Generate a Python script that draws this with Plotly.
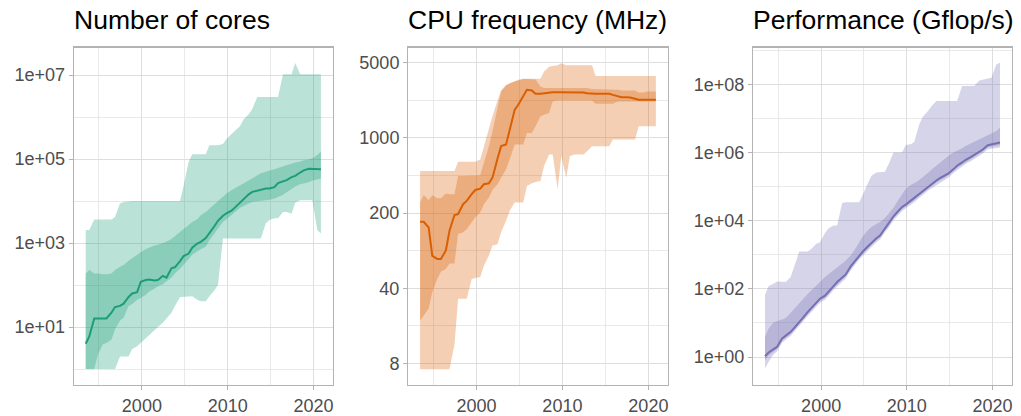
import plotly.graph_objects as go

# TOP500 lists: June and November of each year, 1993-2020 (decimal years)
years = [y + m for y in range(1993, 2021) for m in (0.45, 0.87)]

# ---------------- Number of cores ----------------
cores_median = [4, 6, 16, 16, 16, 16, 22, 30, 32, 36, 52, 63, 68, 120, 132, 135, 129, 132,
                166, 151, 251, 269, 372, 490, 562, 776, 977, 1072, 1318, 1698, 2512, 3388,
                4467, 5129, 5888, 7079, 9333, 11220, 14454, 16596, 17783, 18621, 19953, 19953,
                21380, 26915, 29512, 31623, 37154, 39811, 47863, 53703, 58884, 58884, 58884, 57544]
cores_inner_lo = [1, 1, 1, 2.2, 3.9, 4.2, 5.0, 8.9, 14.1, 16.6, 31.6, 35.5, 44.7, 49.0, 58.9, 70.8,
                  81.3, 93.3, 105, 123, 151, 191, 245, 302, 417, 525, 631, 724, 813, 1175, 1698,
                  2291, 3236, 3715, 4571, 5495, 6918, 7586, 8710, 9550, 10000, 10233, 10471, 10715,
                  11482, 12589, 14125, 16596, 19498, 22387, 25119, 26915, 28184, 30903, 33113, 33884]
cores_inner_hi = [190, 229, 190, 190, 182, 182, 190, 229, 275, 302, 380, 436, 550, 603, 724, 794,
                  871, 912, 1000, 1072, 1259, 1479, 1820, 2138, 2630, 3162, 3715, 4571, 5495, 6607,
                  8318, 10233, 13183, 15136, 18197, 20417, 23988, 26915, 30903, 35481, 41687, 45709,
                  50119, 52481, 57544, 61660, 67608, 72444, 77625, 83176, 87096, 93325, 97724,
                  104713, 125893, 151356]
cores_outer_lo = [1, 1, 1, 1, 1, 1, 1, 1, 2, 2, 2, 3, 3.5, 4.3, 5.4, 6.5, 8.5, 10, 12.6, 16, 22, 32,
                  52, 54, 54, 54, 45, 41, 41, 54, 74, 100, 1290, 1290, 1290, 1290, 1290, 1290, 1290,
                  1290, 1290, 1290, 2950, 3550, 3900, 3900, 5500, 5500, 5000, 9100, 10500, 10500,
                  10500, 10500, 2040, 1700]
cores_outer_hi = [2050, 2050, 3630, 3630, 3630, 3630, 3630, 4170, 8700, 9500, 10000, 10000, 10000,
                  10000, 10000, 10000, 10000, 10000, 10000, 10000, 10000, 10000, 10000, 23400, 85000,
                  131000, 131000, 131000, 131000, 212000, 212000, 212000, 229000, 302000, 398000,
                  479000, 617000, 891000, 1170000, 1550000, 3000000, 3000000, 3000000, 3000000,
                  3000000, 3000000, 10500000, 10500000, 10500000, 19500000, 10500000, 10500000,
                  10500000, 10500000, 10500000, 10500000]

# ---------------- CPU frequency (MHz) ----------------
freq_median = [166, 166, 147, 80, 75, 75, 90, 137, 192, 196, 242, 260, 300, 328, 338, 371, 379, 427,
               640, 838, 868, 1190, 1820, 2030, 2430, 2800, 2760, 2570, 2570, 2600, 2640, 2660, 2660,
               2660, 2660, 2640, 2660, 2660, 2640, 2600, 2570, 2570, 2570, 2570, 2570, 2510, 2460,
               2390, 2390, 2375, 2310, 2260, 2260, 2260, 2260, 2260]
freq_inner_lo = [20, 22.5, 26, 37, 49, 57, 61, 68, 68, 128, 133, 142, 166, 183, 203, 242, 279, 328,
                 371, 427, 510, 631, 868, 868, 868, 1110, 1110, 1280, 1590, 1640, 1700, 2180, 2230,
                 2230, 2230, 2230, 2230, 2230, 2230, 2230, 2230, 2080, 2080, 2080, 2080, 2080, 2180,
                 2180, 2180, 2180, 2180, 2180, 2180, 2180, 2180, 2180]
freq_inner_hi = [251, 295, 265, 293, 275, 275, 305, 300, 300, 443, 443, 443, 443, 443, 449, 588, 838,
                 1150, 1960, 2700, 3050, 3200, 3340, 3420, 3530, 3530, 3530, 3480, 3000, 2900, 2900,
                 2900, 2900, 2900, 2900, 2900, 2900, 2900, 2900, 2900, 2840, 2840, 2840, 2840, 2840,
                 2840, 2800, 2760, 2760, 2760, 2760, 2640, 2640, 2700, 2700, 2700]
freq_outer_lo = [7.1, 7.1, 7.1, 7.1, 7.1, 7.1, 7.1, 7.1, 12, 32, 32, 32, 49, 50, 51, 65, 81, 100,
                 103, 133, 170, 210, 251, 251, 251, 358, 379, 390, 398, 548, 702, 702, 333, 677, 427,
                 677, 702, 702, 702, 753, 838, 838, 838, 838, 838, 965, 965, 965, 965, 965, 965,
                 1280, 1280, 1280, 1280, 1280]
freq_outer_hi = [492, 492, 492, 492, 492, 492, 492, 492, 492, 600, 600, 600, 600, 600, 631, 838,
                 1190, 1590, 2210, 2760, 3110, 3220, 3390, 3460, 3550, 3550, 3550, 3550, 3550, 4130,
                 4590, 4660, 4720, 4930, 4720, 4720, 4720, 4720, 4720, 4720, 4720, 3760, 3760, 3760,
                 3760, 3760, 3760, 3760, 3760, 3760, 3760, 3760, 3760, 3760, 3760, 3760]

# ---------------- Performance (Gflop/s) ----------------
perf_median = [1.06, 1.36, 1.71, 2.0, 3.5, 4.2, 5.5, 7.2, 10.3, 14.1, 21.1, 27.6, 38.6, 51.7, 63.2,
               80.9, 121, 159, 212, 266, 456, 624, 955, 1250, 1750, 2240, 3070, 3670, 6030, 8060,
               13500, 17700, 25400, 29700, 38800, 45400, 62100, 74300, 99500, 119000, 152000,
               178000, 209000, 245000, 327000, 410000, 513000, 614000, 735000, 860000, 1050000,
               1230000, 1640000, 1720000, 1840000, 1970000]
perf_inner_lo = [0.81, 1.09, 1.46, 1.75, 3.05, 3.66, 4.79, 6.27, 8.97, 12.3, 18.4, 24.1, 33.7, 45.2,
                 55.3, 70.8, 106, 139, 186, 232, 398, 546, 836, 1090, 1530, 1960, 2690, 3210, 5260,
                 7050, 11800, 15500, 22100, 25900, 33900, 39600, 54300, 65000, 87100, 104000,
                 133000, 156000, 182000, 213000, 286000, 358000, 448000, 536000, 641000, 750000,
                 918000, 1070000, 1440000, 1500000, 1570000, 1640000]
perf_inner_hi = [3.9, 6.9, 10.3, 11.5, 12.6, 14.1, 20.1, 26.4, 36.9, 51.7, 72.4, 90.6, 121, 159, 222,
                 266, 348, 427, 558, 683, 957, 1340, 2350, 3510, 5270, 6590, 8060, 9220, 12100,
                 15800, 24200, 36300, 59400, 85100, 111000, 125000, 156000, 187000, 250000, 313000,
                 410000, 513000, 642000, 803000, 1000000, 1120000, 1350000, 1570000, 1840000,
                 2060000, 2470000, 2760000, 3230000, 3690000, 4320000, 5410000]
perf_outer_lo = [0.46, 0.73, 1.19, 1.49, 2.61, 3.2, 4.19, 5.48, 7.85, 10.7, 16.1, 21.1, 29.5, 39.5,
                 48.3, 61.8, 92.7, 121, 163, 203, 348, 476, 731, 957, 1340, 1710, 2350, 2810, 4600,
                 6150, 10300, 13500, 19400, 22700, 29600, 34700, 47500, 56800, 76000, 91000, 116000,
                 136000, 160000, 187000, 250000, 313000, 392000, 469000, 561000, 656000, 802000,
                 940000, 1260000, 1310000, 1370000, 1410000]
perf_outer_hi = [67.6, 121, 142, 166, 162, 159, 222, 460, 1250, 1250, 1250, 1500, 2100, 2350, 4400,
                 6030, 7210, 7210, 33100, 34700, 34700, 34700, 34700, 60000, 126000, 209000, 261000,
                 261000, 273000, 458000, 1000000, 1000000, 1000000, 1680000, 1760000, 2040000,
                 6760000, 11300000, 16200000, 23000000, 32600000, 32600000, 32600000, 32600000,
                 32600000, 32600000, 89400000, 89400000, 89400000, 89400000, 131000000, 140000000,
                 150000000, 157000000, 385000000, 431000000]

titles = ["Number of cores", "CPU frequency (MHz)", "Performance (Gflop/s)"]
colors = [(27, 158, 119), (217, 95, 2), (117, 112, 179)]

x_ticks = [2000, 2010, 2020]
x_minor = [1995, 2005, 2015]
y_ticks = [[10, 1e3, 1e5, 1e7], [8, 40, 200, 1000, 5000], [1, 100, 1e4, 1e6, 1e8]]
y_ticktext = [["1e+01", "1e+03", "1e+05", "1e+07"], ["8", "40", "200", "1000", "5000"],
              ["1e+00", "1e+02", "1e+04", "1e+06", "1e+08"]]
y_minor = [[1, 100, 1e4, 1e6], [17.9, 89.4, 447, 2236], [10, 1e3, 1e5, 1e7, 1e9]]

series = [
    (cores_outer_lo, cores_outer_hi, cores_inner_lo, cores_inner_hi, cores_median),
    (freq_outer_lo, freq_outer_hi, freq_inner_lo, freq_inner_hi, freq_median),
    (perf_outer_lo, perf_outer_hi, perf_inner_lo, perf_inner_hi, perf_median),
]

# layout geometry (pixels in a 1021 x 416 page)
W, H = 1021, 416
panel_x = [(74, 333), (408.7, 668.3), (754, 1012.7)]
panel_y = (48, 386.7)
y_ranges = [[-0.375, 7.65], [0.706, 3.837], [-0.815, 9.075]]
x_range = [1992.08, 2022.24]

fig = go.Figure()
FONT = "Liberation Sans, Arial, Helvetica, sans-serif"

for i in range(3):
    xa = "x" if i == 0 else f"x{i + 1}"
    ya = "y" if i == 0 else f"y{i + 1}"
    r, g, b = colors[i]
    fill = f"rgba({r},{g},{b},0.3)"
    olo, ohi, ilo, ihi, med = series[i]
    for lo, hi in ((olo, ohi), (ilo, ihi)):
        fig.add_trace(go.Scatter(
            x=years + years[::-1], y=hi + lo[::-1], fill="toself", fillcolor=fill,
            mode="lines", line=dict(width=0), hoverinfo="skip", showlegend=False,
            xaxis=xa, yaxis=ya))
    fig.add_trace(go.Scatter(
        x=years, y=med, mode="lines", line=dict(color=f"rgb({r},{g},{b})", width=2),
        showlegend=False, xaxis=xa, yaxis=ya))

    common = dict(showline=True, mirror=True, linecolor="#b3b3b3", linewidth=1.3,
                  ticks="outside", ticklen=4, tickwidth=1, tickcolor="#b3b3b3",
                  tickfont=dict(size=18, color="#4d4d4d", family=FONT),
                  showgrid=True, gridcolor="#dedede", gridwidth=1, zeroline=False,
                  fixedrange=True)
    xkey = "xaxis" if i == 0 else f"xaxis{i + 1}"
    ykey = "yaxis" if i == 0 else f"yaxis{i + 1}"
    fig.update_layout(**{
        xkey: dict(common, domain=[panel_x[i][0] / W, panel_x[i][1] / W], anchor=ya,
                   range=x_range, tickmode="array", tickvals=x_ticks,
                   ticktext=[str(v) for v in x_ticks],
                   minor=dict(tickvals=x_minor, showgrid=True, gridcolor="#e3e3e3",
                              gridwidth=0.8, ticks="")),
        ykey: dict(common, domain=[1 - panel_y[1] / H, 1 - panel_y[0] / H], anchor=xa,
                   type="log", range=y_ranges[i], tickmode="array", tickvals=y_ticks[i],
                   ticktext=y_ticktext[i],
                   minor=dict(tickvals=y_minor[i], showgrid=True, gridcolor="#e3e3e3",
                              gridwidth=0.8, ticks="")),
    })
    fig.add_annotation(text=titles[i], xref="paper", yref="paper",
                       x=(panel_x[i][0] - 2) / W, y=1 - 20.1 / H, xanchor="left",
                       yanchor="middle", showarrow=False,
                       font=dict(size=26.5, color="black", family=FONT))

fig.update_layout(width=W, height=H, margin=dict(l=0, r=0, t=0, b=0),
                  paper_bgcolor="white", plot_bgcolor="white", showlegend=False,
                  font=dict(family=FONT))

fig.write_html("out.html",
               config={"displayModeBar": False, "staticPlot": True},
               post_script="document.body.style.margin='0';"
                           "document.body.style.overflow='hidden';")
